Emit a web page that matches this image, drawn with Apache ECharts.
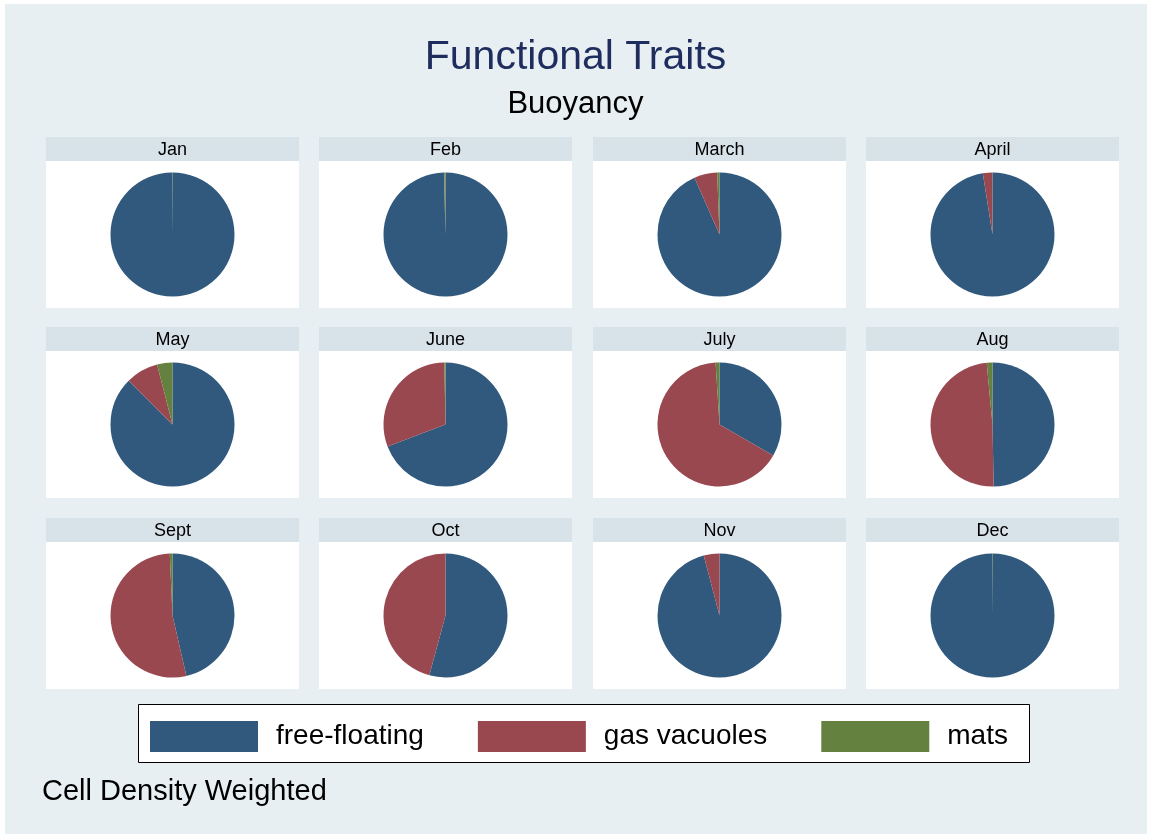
<!DOCTYPE html>
<html>
<head>
<meta charset="utf-8">
<title>Functional Traits - Buoyancy</title>
<script src="https://cdn.jsdelivr.net/npm/echarts@6/dist/echarts.min.js"></script>
<style>
  html, body { margin: 0; padding: 0; background: #fff; }
  #chart { width: 1151px; height: 838px; }
</style>
</head>
<body>
<div id="chart"></div>
<script>
// month panels, in reading order
const months = ['Jan', 'Feb', 'March', 'April', 'May', 'June', 'July', 'Aug', 'Sept', 'Oct', 'Nov', 'Dec']
const traits = ['free-floating', 'gas vacuoles', 'mats']

// share of cell density (%) per month
const freeFloating = [99.9, 99.6, 93.4, 97.5, 87.5, 69.2, 33.3, 49.7, 46.4, 54.2, 95.9, 99.9]
const gasVacuoles = [0.0, 0.1, 6.0, 2.5, 8.5, 30.5, 65.7, 48.8, 52.9, 45.8, 4.1, 0.0]
const mats = [0.1, 0.3, 0.6, 0.0, 4.0, 0.3, 1.0, 1.5, 0.7, 0.0, 0.0, 0.1]

const colors = ['#30597d', '#994850', '#658140']
const font = '"Liberation Sans", Arial, Helvetica, sans-serif'

// panel layout
const colLeft = [46, 319, 593, 866]
const rowTop = [137, 327, 518]
const panelW = 253
const headerH = 24
const plotH = 147
const radius = 62

const chart = echarts.init(document.getElementById('chart'))

const graphic = [
  { type: 'rect', shape: { x: 5, y: 4, width: 1142, height: 830 }, style: { fill: '#e8eff2' }, z: -10 }
]
const series = []

months.forEach((m, i) => {
  const x = colLeft[i % 4]
  const y = rowTop[Math.floor(i / 4)]
  graphic.push({ type: 'rect', shape: { x: x, y: y, width: panelW, height: headerH }, style: { fill: '#d8e2e9' }, z: -5 })
  graphic.push({ type: 'rect', shape: { x: x, y: y + headerH, width: panelW, height: plotH }, style: { fill: '#ffffff' }, z: -5 })
  graphic.push({
    type: 'text', x: x + panelW / 2, y: y + headerH / 2 + 1,
    style: { text: m, fill: '#000', font: '18px ' + font, textAlign: 'center', textVerticalAlign: 'middle' }
  })
  series.push({
    type: 'pie',
    name: m,
    center: [x + panelW / 2, y + headerH + plotH / 2],
    radius: radius,
    startAngle: 90,
    clockwise: true,
    silent: true,
    label: { show: false },
    labelLine: { show: false },
    itemStyle: { borderWidth: 0 },
    emphasis: { disabled: true },
    data: [
      { name: traits[0], value: freeFloating[i] },
      { name: traits[1], value: gasVacuoles[i] },
      { name: traits[2], value: mats[i] }
    ]
  })
})

// legend frame
graphic.push({ type: 'rect', shape: { x: 138.5, y: 704.5, width: 891, height: 58 }, style: { fill: '#fff', stroke: '#000', lineWidth: 1 }, z: -4 })

// note
graphic.push({
  type: 'text', x: 42, y: 792,
  style: { text: 'Cell Density Weighted', fill: '#000', font: '29px ' + font, textVerticalAlign: 'middle' }
})

chart.setOption({
  animation: false,
  color: colors,
  title: [
    {
      text: 'Functional Traits', left: 'center', top: 32,
      textStyle: { color: '#1e2d5e', fontSize: 41, fontWeight: 'normal', fontFamily: font }
    },
    {
      text: 'Buoyancy', left: 'center', top: 84,
      textStyle: { color: '#000', fontSize: 31, fontWeight: 'normal', fontFamily: font }
    }
  ],
  legend: {
    data: traits,
    left: 150,
    top: 721,
    padding: 0,
    itemWidth: 108,
    itemHeight: 31,
    itemGap: 54,
    icon: 'rect',
    selectedMode: false,
    textStyle: { fontSize: 28, color: '#000', fontFamily: font, padding: [0, 0, 0, 13] }
  },
  graphic: graphic,
  series: series
})
</script>
</body>
</html>
